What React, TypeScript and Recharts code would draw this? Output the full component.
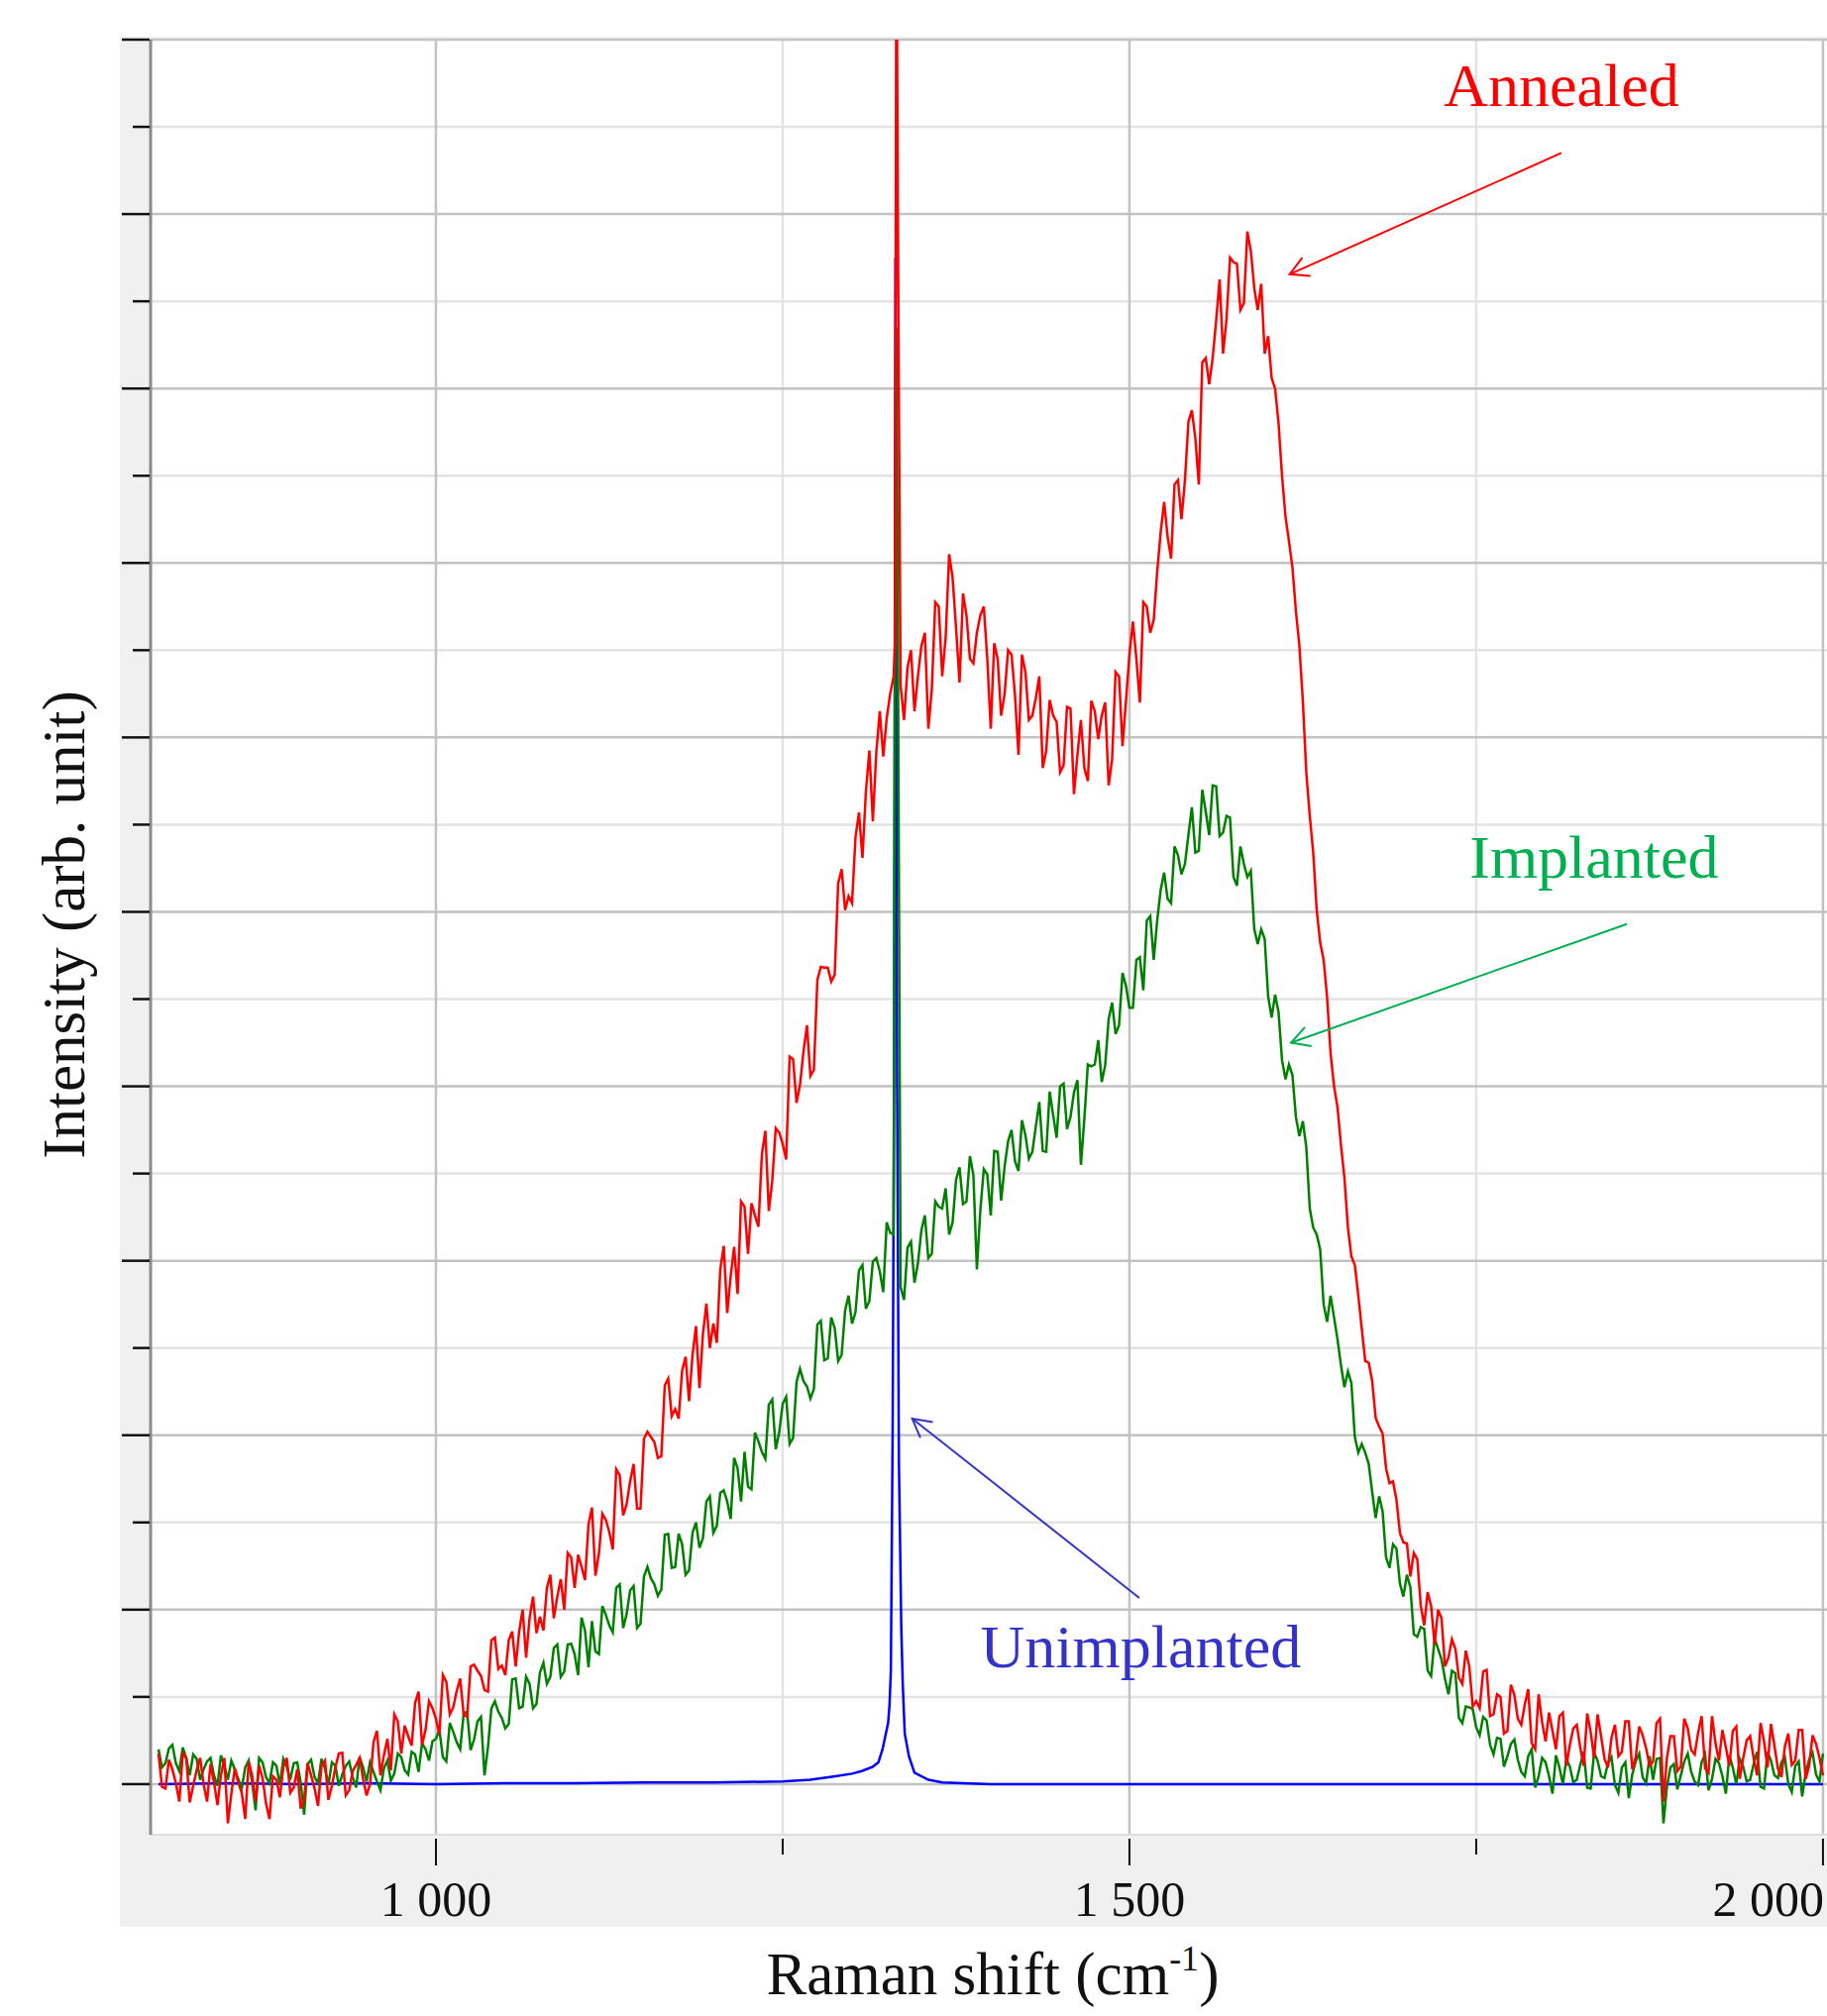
import {
  LineChart,
  Line,
  XAxis,
  YAxis,
  CartesianGrid,
  ReferenceLine,
  ReferenceDot,
} from "recharts";

// Raman shift grid (cm-1), shared by the annealed and implanted spectra
const shift = [
  800, 805, 810, 815, 820, 825, 830, 835, 840, 845, 850, 855, 860, 865, 870, 875, 880, 885, 890, 895,
  900, 905, 910, 915, 920, 925, 930, 935, 940, 945, 950, 955, 960, 965, 970, 975, 980, 985, 990, 995,
  1000, 1005, 1010, 1015, 1020, 1025, 1030, 1035, 1040, 1045, 1050, 1055, 1060, 1065, 1070, 1075, 1080, 1085, 1090, 1095,
  1100, 1105, 1110, 1115, 1120, 1125, 1130, 1135, 1140, 1145, 1150, 1155, 1160, 1165, 1170, 1175, 1180, 1185, 1190, 1195,
  1200, 1205, 1210, 1215, 1220, 1225, 1230, 1235, 1240, 1245, 1250, 1255, 1260, 1265, 1270, 1275, 1280, 1285, 1290, 1295,
  1300, 1305, 1310, 1315, 1320, 1325, 1330, 1331, 1332, 1333, 1335, 1340, 1345, 1350, 1355, 1360, 1365, 1370, 1375, 1380,
  1385, 1390, 1395, 1400, 1405, 1410, 1415, 1420, 1425, 1430, 1435, 1440, 1445, 1450, 1455, 1460, 1465, 1470, 1475, 1480,
  1485, 1490, 1495, 1500, 1505, 1510, 1515, 1520, 1525, 1530, 1535, 1540, 1545, 1550, 1555, 1560, 1565, 1570, 1575, 1580,
  1585, 1590, 1595, 1600, 1605, 1610, 1615, 1620, 1625, 1630, 1635, 1640, 1645, 1650, 1655, 1660, 1665, 1670, 1675, 1680,
  1685, 1690, 1695, 1700, 1705, 1710, 1715, 1720, 1725, 1730, 1735, 1740, 1745, 1750, 1755, 1760, 1765, 1770, 1775, 1780,
  1785, 1790, 1795, 1800, 1805, 1810, 1815, 1820, 1825, 1830, 1835, 1840, 1845, 1850, 1855, 1860, 1865, 1870, 1875, 1880,
  1885, 1890, 1895, 1900, 1905, 1910, 1915, 1920, 1925, 1930, 1935, 1940, 1945, 1950, 1955, 1960, 1965, 1970, 1975, 1980,
  1985, 1990, 1995, 2000,
];

const annealed = [
  0.35, -0.05, 0.17, -0.2, 0.3, -0.02, 0.3, -0.2, 0.02, 0.1, -0.45, 0.18, -0.1, 0.25, -0.2, 0.07, -0.4, 0.05, 0.2, -0.1,
  0.17, -0.17, 0.1, -0.25, 0.27, -0.02, 0.35, -0.13, 0.15, 0.3, -0.13, 0.48, 0.1, 0.52, 0.8, 0.35, 0.55, 0.93, 0.45, 0.95,
  0.75, 1.25, 0.8, 1.07, 0.8, 1.35, 1.3, 1.08, 1.65, 1.32, 1.25, 1.75, 1.75, 1.45, 2.15, 1.92, 2.25, 1.9, 2.35, 2.65,
  2.25, 2.49, 2.98, 2.39, 3.1, 2.89, 3.61, 3.08, 3.47, 3.16, 3.96, 3.98, 3.74, 4.57, 4.22, 4.19, 4.9, 4.92, 4.54, 5.51,
  5.28, 5.9, 5.4, 6.16, 6.68, 6.08, 6.52, 7.22, 6.57, 7.52, 7.34, 8.34, 7.81, 8.4, 8.12, 9.22, 9.36, 9.2, 10.33, 10.02,
  10.1, 11.14, 11.38, 11.04, 12.3, 12.22, 12.7, 13.1, 22, 18.0, 12.6, 12.8, 12.3, 13.05, 12.1, 13.55, 12.7, 14.1, 13.25, 13.65,
  12.9, 13.2, 13.5, 12.1, 12.9, 12.5, 12.95, 11.8, 12.75, 12.25, 12.7, 11.85, 12.25, 11.6, 12.35, 11.35, 12.2, 11.5, 12.3, 12.25,
  11.45, 12.75, 11.9, 12.95, 12.9, 13.55, 13.2, 13.9, 14.7, 14.05, 14.95, 14.95, 15.75, 14.9, 16.35, 16.35, 17.25, 16.8, 17.45, 16.9,
  17.8, 17.15, 17.2, 16.6, 16.0, 15.0, 14.25, 13.45, 12.42, 11.1, 10.02, 9.45, 8.38, 7.76, 6.95, 6.05, 5.6, 4.85, 4.62, 4.1,
  3.62, 3.47, 2.88, 2.76, 2.65, 2.05, 2.2, 1.6, 1.9, 1.45, 1.55, 1.15, 1.35, 0.95, 1.29, 0.78, 1.03, 0.58, 1.14, 0.75,
  0.91, 0.47, 1.03, 0.49, 0.61, 0.78, 0.21, 0.64, 0.42, 0.81, 0.3, 0.55, 0.19, 0.68, 0.37, 0.72, 0.31, 0.56, 0.21, 0.7,
  -0.2, 0.55, 0.15, 0.75, 0.39, 0.59, 0.18, 0.78, 0.27, 0.42, 0.61, 0.06, 0.5, 0.3, 0.7, 0.19, 0.44, 0.08, 0.58, 0.27,
  0.62, 0.21, 0.46, 0.1,
];

const implanted = [
  0.4, 0.24, 0.45, 0.15, 0.3, 0.34, 0.05, 0.26, 0.1, 0.33, 0.05, 0.17, -0.05, 0.27, -0.3, 0.25, 0.01, 0.21, 0.29, 0.05,
  0.25, -0.35, 0.28, 0.01, 0.18, 0.25, -0.02, 0.21, 0.08, 0.31, 0.03, 0.14, -0.07, 0.27, 0.12, 0.31, 0.11, 0.34, 0.47, 0.27,
  0.52, 0.31, 0.7, 0.48, 0.81, 0.39, 0.72, 0.1, 0.87, 0.83, 0.64, 1.2, 0.87, 1.23, 0.87, 1.28, 1.15, 1.56, 1.23, 1.6,
  1.49, 1.91, 1.34, 1.52, 2.04, 1.82, 2.25, 1.79, 2.22, 1.79, 2.38, 2.36, 2.16, 2.86, 2.48, 2.87, 2.4, 2.88, 2.71, 3.24,
  2.88, 3.34, 3.24, 3.74, 3.24, 3.41, 4.03, 3.81, 4.35, 3.84, 4.36, 3.9, 4.61, 4.62, 4.42, 5.27, 4.86, 5.35, 4.85, 5.43,
  5.28, 5.89, 5.45, 5.99, 5.88, 6.44, 6.3, 13.2, 16.7, 13.5, 5.7, 6.15, 5.75, 6.35, 6.03, 6.68, 6.6, 6.3, 6.93, 6.65,
  7.2, 5.9, 7.05, 6.52, 7.25, 7.08, 7.5, 7.03, 7.44, 7.25, 7.82, 7.25, 7.67, 8.0, 7.51, 7.93, 7.1, 8.25, 8.25, 8.05,
  8.77, 8.6, 9.3, 8.9, 9.45, 9.1, 9.95, 9.9, 10.45, 10.1, 10.65, 10.55, 11.2, 10.7, 11.15, 11.45, 10.87, 11.1, 10.4, 10.75,
  10.4, 9.8, 9.8, 9.03, 9.05, 8.3, 8.25, 7.65, 7.6, 6.6, 6.3, 5.5, 5.6, 5.1, 4.55, 4.6, 3.8, 3.8, 3.35, 3.3,
  2.6, 2.75, 2.3, 2.4, 1.72, 1.8, 1.3, 1.67, 1.43, 1.03, 1.27, 0.7, 0.88, 0.65, 0.77, 0.45, 0.53, 0.2, 0.46, 0.28,
  0.09, 0.4, 0.09, 0.25, -0.11, 0.19, 0.29, 0.02, 0.22, -0.04, 0.36, 0.09, 0.24, -0.01, 0.19, -0.16, 0.26, 0.08, 0.32, 0.29,
  -0.45, 0.19, -0.06, 0.26, 0.14, -0.01, 0.34, 0.06, 0.24, -0.11, 0.19, 0.29, 0.03, 0.23, -0.03, 0.37, 0.1, 0.25, 0.0, 0.21,
  -0.14, 0.28, 0.11, 0.35,
];

// in-between readings of the same two spectra (half-step points)
const shiftMid = [
  802.5, 807.5, 812.5, 817.5, 822.5, 827.5, 832.5, 837.5, 842.5, 847.5, 852.5, 857.5, 862.5, 867.5, 872.5, 877.5, 882.5, 887.5, 892.5, 897.5,
  902.5, 907.5, 912.5, 917.5, 922.5, 927.5, 932.5, 937.5, 942.5, 947.5, 952.5, 957.5, 962.5, 967.5, 972.5, 977.5, 982.5, 987.5, 992.5, 997.5,
  1002.5, 1007.5, 1012.5, 1017.5, 1022.5, 1027.5, 1032.5, 1037.5, 1042.5, 1047.5, 1052.5, 1057.5, 1062.5, 1067.5, 1072.5, 1077.5, 1082.5, 1087.5, 1092.5, 1097.5,
  1102.5, 1107.5, 1112.5, 1117.5, 1122.5, 1127.5, 1132.5, 1137.5, 1142.5, 1147.5, 1152.5, 1157.5, 1162.5, 1167.5, 1172.5, 1177.5, 1182.5, 1187.5, 1192.5, 1197.5,
  1202.5, 1207.5, 1212.5, 1217.5, 1222.5, 1227.5, 1232.5, 1237.5, 1242.5, 1247.5, 1252.5, 1257.5, 1262.5, 1267.5, 1272.5, 1277.5, 1282.5, 1287.5, 1292.5, 1297.5,
  1302.5, 1307.5, 1312.5, 1317.5, 1322.5, 1327.5, 1337.5, 1342.5, 1347.5, 1352.5, 1357.5, 1362.5, 1367.5, 1372.5, 1377.5, 1382.5, 1387.5, 1392.5, 1397.5, 1402.5,
  1407.5, 1412.5, 1417.5, 1422.5, 1427.5, 1432.5, 1437.5, 1442.5, 1447.5, 1452.5, 1457.5, 1462.5, 1467.5, 1472.5, 1477.5, 1482.5, 1487.5, 1492.5, 1497.5, 1502.5,
  1507.5, 1512.5, 1517.5, 1522.5, 1527.5, 1532.5, 1537.5, 1542.5, 1547.5, 1552.5, 1557.5, 1562.5, 1567.5, 1572.5, 1577.5, 1582.5, 1587.5, 1592.5, 1597.5, 1602.5,
  1607.5, 1612.5, 1617.5, 1622.5, 1627.5, 1632.5, 1637.5, 1642.5, 1647.5, 1652.5, 1657.5, 1662.5, 1667.5, 1672.5, 1677.5, 1682.5, 1687.5, 1692.5, 1697.5, 1702.5,
  1707.5, 1712.5, 1717.5, 1722.5, 1727.5, 1732.5, 1737.5, 1742.5, 1747.5, 1752.5, 1757.5, 1762.5, 1767.5, 1772.5, 1777.5, 1782.5, 1787.5, 1792.5, 1797.5, 1802.5,
  1807.5, 1812.5, 1817.5, 1822.5, 1827.5, 1832.5, 1837.5, 1842.5, 1847.5, 1852.5, 1857.5, 1862.5, 1867.5, 1872.5, 1877.5, 1882.5, 1887.5, 1892.5, 1897.5, 1902.5,
  1907.5, 1912.5, 1917.5, 1922.5, 1927.5, 1932.5, 1937.5, 1942.5, 1947.5, 1952.5, 1957.5, 1962.5, 1967.5, 1972.5, 1977.5, 1982.5, 1987.5, 1992.5, 1997.5,
];

const annealedMid = [
  -0.03, 0.28, 0.01, 0.35, -0.21, 0.16, 0.0, 0.23, -0.24, 0.3, -0.11, 0.02, -0.4, 0.1, 0.21, -0.22, 0.09, -0.15, 0.3, -0.04,
  -0.28, 0.24, -0.05, 0.21, -0.18, 0.19, 0.36, -0.07, 0.22, 0.06, 0.0, 0.61, 0.33, 0.16, 0.72, 0.67, 0.44, 1.06, 0.62, 0.87,
  0.57, 1.17, 0.88, 1.21, 0.77, 1.37, 1.24, 1.06, 1.68, 1.36, 1.65, 1.35, 2.0, 1.9, 1.73, 1.76, 2.4, 2.15, 2.0, 2.6,
  2.63, 2.34, 3.17, 2.64, 3.03, 2.69, 3.54, 3.21, 3.67, 3.16, 4.04, 3.92, 3.76, 4.65, 4.3, 4.74, 4.39, 5.25, 5.16, 5.0,
  5.06, 6.17, 5.82, 5.62, 6.62, 6.66, 6.39, 7.49, 6.92, 7.47, 7.16, 8.31, 8.02, 8.7, 8.19, 9.37, 9.36, 9.28, 10.49, 10.18,
  10.86, 10.62, 11.85, 11.83, 11.78, 12.5, 12.2, 13.0, 12.7, 13.2, 12.55, 13.5, 13.15, 13.83, 12.63, 13.4, 12.85, 13.4, 12.9, 13.08,
  12.25, 13.0, 12.48, 12.95, 12.2, 12.45, 11.65, 12.43, 12.18, 11.68, 12.33, 11.8, 11.65, 12.42, 11.98, 12.4, 11.75, 12.7, 12.42, 13.33,
  12.4, 13.5, 13.35, 14.35, 14.3, 14.9, 14.5, 15.62, 15.43, 16.3, 16.05, 16.78, 16.4, 17.5, 17.43, 16.98, 17.58, 16.9, 16.4, 16.12,
  15.6, 14.53, 13.95, 13.05, 11.6, 10.68, 9.65, 9.02, 8.0, 7.32, 6.38, 5.95, 5.22, 4.83, 4.2, 4.02, 3.45, 3.26, 2.77, 2.38,
  2.58, 1.82, 2.04, 2.0, 1.35, 1.66, 1.22, 1.53, 0.89, 0.87, 1.31, 0.8, 1.0, 0.61, 1.02, 0.68, 1.09, 0.4, 0.71, 0.82,
  0.4, 0.82, 0.45, 0.68, 0.21, 0.6, 0.8, 0.29, 0.53, 0.32, 0.72, 0.17, 0.66, 0.41, 0.26, 0.75, 0.3, 0.55, 0.2, 0.64,
  0.34, 0.78, 0.13, 0.47, 0.62, 0.21, 0.66, 0.3, 0.55, 0.1, 0.49, 0.69, 0.18, 0.43, 0.22, 0.62, 0.06, 0.56, 0.3,
];

const implantedMid = [
  0.19, 0.41, 0.24, 0.42, 0.1, 0.29, 0.17, 0.3, -0.02, 0.21, 0.27, 0.06, 0.19, 0.02, 0.3, 0.08, 0.25, -0.01, 0.2, 0.24,
  0.02, 0.23, 0.08, 0.29, -0.01, 0.21, 0.11, 0.26, -0.04, 0.19, 0.25, 0.03, 0.18, 0.04, 0.35, 0.16, 0.37, 0.14, 0.4, 0.49,
  0.62, 0.26, 0.6, 0.4, 0.83, 0.51, 0.77, 0.42, 0.95, 0.76, 0.69, 1.21, 0.89, 1.15, 0.92, 1.39, 1.23, 1.6, 1.29, 1.61,
  1.25, 1.76, 1.87, 1.49, 1.94, 1.74, 2.29, 1.95, 2.27, 1.84, 2.49, 2.29, 2.23, 2.87, 2.49, 2.75, 2.45, 3.0, 2.82, 3.3,
  2.96, 3.37, 3.04, 3.62, 3.81, 3.38, 3.93, 3.73, 4.41, 4.03, 4.44, 3.97, 4.76, 4.56, 4.53, 5.31, 4.88, 5.23, 4.92, 5.6,
  5.41, 5.95, 5.54, 6.03, 5.64, 6.32, 5.55, 6.22, 5.97, 6.52, 6.08, 6.62, 6.83, 6.44, 7.07, 6.68, 6.98, 6.58, 6.99, 7.26,
  6.69, 7.37, 7.14, 7.61, 7.17, 7.54, 7.26, 7.94, 7.41, 8.03, 7.65, 8.07, 7.63, 8.23, 8.53, 8.24, 8.96, 8.7, 9.15, 8.9,
  9.48, 9.9, 9.45, 10.25, 10.15, 10.75, 10.43, 10.88, 10.68, 11.4, 10.88, 11.44, 10.91, 11.08, 10.3, 10.55, 10.47, 9.63, 9.69, 8.79,
  8.85, 8.08, 8.13, 7.43, 7.3, 6.38, 6.13, 5.3, 5.35, 4.8, 4.73, 3.98, 3.9, 3.67, 3.05, 3.13, 2.48, 2.7, 2.15, 2.26,
  1.69, 1.78, 1.24, 1.55, 1.21, 1.3, 0.76, 0.89, 0.86, 0.56, 0.73, 0.34, 0.52, 0.32, 0.51, 0.14, 0.32, -0.04, 0.3, 0.09,
  0.33, 0.0, 0.2, 0.05, 0.37, -0.05, 0.27, 0.07, 0.31, -0.1, 0.25, 0.11, 0.35, 0.01, 0.05, 0.3, -0.03, 0.23, 0.1, 0.35,
  0.03, 0.25, -0.07, 0.29, 0.09, 0.33, 0.0, 0.2, 0.05, 0.37, -0.05, 0.27, 0.07, 0.31, -0.09, 0.26, 0.12, 0.36, 0.03,
];

// the unimplanted diamond only has its sharp 1332 line, so it is sampled on its own grid
const unimplantedShift = [
  800, 850, 900, 950, 1000, 1050, 1100, 1150, 1200, 1250, 1270, 1288, 1300, 1307, 1315, 1319, 1322, 1324, 1326, 1327,
  1328, 1329.3, 1330.3, 1331.3, 1332.5, 1333.8, 1335.5, 1336.5, 1338, 1341, 1345, 1355, 1365, 1380, 1400, 1500, 1600,
  1700, 1800, 1900, 2000,
];
const unimplanted = [
  0, 0.01, 0, 0.01, 0, 0.01, 0.01, 0.02, 0.02, 0.03, 0.05, 0.09, 0.12, 0.15, 0.2, 0.25, 0.4, 0.55, 0.7, 0.9,
  1.3, 4.1, 8.0, 17.5, 8.0, 3.7, 1.8, 1.18, 0.58, 0.32, 0.13, 0.05, 0.02, 0.01, 0, 0, 0,
  0, 0, 0, 0,
];

const xTicks = [1000, 1250, 1500, 1750, 2000];
const xTickLabels = ["1 000", "", "1 500", "", "2 000"];
const xMajor = [1000, 1500, 2000];
const xMinor = [1250, 1750];
const yTicks = [0, 1, 2, 3, 4, 5, 6, 7, 8, 9, 10, 11, 12, 13, 14, 15, 16, 17, 18, 19, 20];
const yMajor = [0, 2, 4, 6, 8, 10, 12, 14, 16, 18, 20];
const yMinor = [1, 3, 5, 7, 9, 11, 13, 15, 17, 19];

const annotations = [
  { text: "Annealed", color: "#ff0000", tx: 1811.4, ty: 19.24, from: [1811.4, 18.7], to: [1615.5, 17.31] },
  { text: "Implanted", color: "#00b050", tx: 1835, ty: 10.39, from: [1858.6, 9.86], to: [1616.5, 8.5] },
  { text: "Unimplanted", color: "#3333cc", tx: 1508.2, ty: 1.34, from: [1507.1, 2.135], to: [1343.4, 4.19] },
];

const serif = '"Liberation Serif", "Times New Roman", serif';

const merge = (xs: number[], ys: number[], xm: number[], ym: number[]) =>
  xs
    .map((s, i) => ({ shift: s, v: ys[i] }))
    .concat(xm.map((s, i) => ({ shift: s, v: ym[i] })))
    .sort((a, b) => a.shift - b.shift);

const annealedData = merge(shift, annealed, shiftMid, annealedMid);
const implantedData = merge(shift, implanted, shiftMid, implantedMid);
const unimplantedData = unimplantedShift.map((s, i) => ({ shift: s, v: unimplanted[i] }));

const YTick = ({ x, y, payload }: any) => {
  const major = yMajor.includes(payload.value);
  return <line x1={x - (major ? 29 : 18)} x2={x - 1} y1={y} y2={y} stroke="#111" strokeWidth={2.5} />;
};

const XTick = ({ x, y, payload }: any) => {
  const major = xMajor.includes(payload.value);
  const idx = xTicks.indexOf(payload.value);
  const last = idx === xTicks.length - 1;
  return (
    <g>
      <line x1={x} x2={x} y1={y + 4} y2={y + (major ? 31 : 20)} stroke="#111" strokeWidth={2} />
      {major && (
        <text
          x={last ? x + 1 : x}
          y={y + 82}
          textAnchor={last ? "end" : "middle"}
          fontFamily={serif}
          fontSize={50}
          fill="#111"
        >
          {xTickLabels[idx]}
        </text>
      )}
    </g>
  );
};

const arrow = (color: string) => (p: any) => {
  const { x1, y1, x2, y2 } = p;
  const a = Math.atan2(y1 - y2, x1 - x2);
  const len = 21;
  const s = 0.5;
  const pts = `${x2 + len * Math.cos(a - s)},${y2 + len * Math.sin(a - s)} ${x2},${y2} ${
    x2 + len * Math.cos(a + s)
  },${y2 + len * Math.sin(a + s)}`;
  return (
    <g>
      <line x1={x1} y1={y1} x2={x2} y2={y2} stroke={color} strokeWidth={2} />
      <polyline points={pts} fill="none" stroke={color} strokeWidth={2} />
    </g>
  );
};

export default function App() {
  return (
    <div style={{ position: "absolute", left: 0, top: 0, width: 1844, height: 2035, background: "#fff" }}>
      <div
        style={{ position: "absolute", left: 121, top: 37, width: 1723, height: 1908, background: "#f0f0f0" }}
      />
      <div style={{ position: "absolute", left: 0, top: 0 }}>
        <LineChart width={1844} height={2035} margin={{ top: 40, right: 0, left: 122, bottom: 90 }}>
          <CartesianGrid
            fill="#ffffff"
            fillOpacity={1}
            stroke="#e3e3e3"
            strokeWidth={2.5}
            horizontalValues={yMinor}
            verticalValues={xMinor}
          />
          <CartesianGrid stroke="#c2c2c2" strokeWidth={2.5} horizontalValues={yMajor} verticalValues={xMajor} />
          <XAxis
            dataKey="shift"
            type="number"
            domain={[794.3, 2002.9]}
            allowDataOverflow
            ticks={xTicks}
            interval={0}
            height={93}
            tickSize={0}
            tickMargin={0}
            tickLine={false}
            axisLine={{ stroke: "#dedede", strokeWidth: 2 }}
            tick={<XTick />}
          />
          <YAxis
            type="number"
            domain={[-0.58, 20]}
            allowDataOverflow
            ticks={yTicks}
            interval={0}
            width={30}
            tickSize={0}
            tickMargin={0}
            tickLine={false}
            axisLine={{ stroke: "#8a8a8a", strokeWidth: 3 }}
            tick={<YTick />}
          />
          <Line
            data={unimplantedData}
            dataKey="v"
            type="linear"
            stroke="#0000ff"
            strokeWidth={2.5}
            dot={false}
            activeDot={false}
            isAnimationActive={false}
          />
          <Line
            data={implantedData}
            dataKey="v"
            type="linear"
            stroke="#008000"
            strokeWidth={2.5}
            dot={false}
            activeDot={false}
            isAnimationActive={false}
          />
          <Line
            data={annealedData}
            dataKey="v"
            type="linear"
            stroke="#ff0000"
            strokeWidth={2.5}
            dot={false}
            activeDot={false}
            isAnimationActive={false}
          />
          {annotations.map((n) => (
            <ReferenceLine
              key={n.text + "-arrow"}
              segment={[
                { x: n.from[0], y: n.from[1] },
                { x: n.to[0], y: n.to[1] },
              ]}
              shape={arrow(n.color)}
            />
          ))}
          {annotations.map((n) => (
            <ReferenceDot
              key={n.text}
              x={n.tx}
              y={n.ty}
              r={0}
              shape={(p: any) => (
                <text x={p.cx} y={p.cy} textAnchor="middle" fontFamily={serif} fontSize={62} fill={n.color}>
                  {n.text}
                </text>
              )}
            />
          ))}
        </LineChart>
      </div>
      <div
        style={{
          position: "absolute",
          left: 702,
          top: 1962,
          width: 600,
          height: 61,
          textAlign: "center",
          fontFamily: serif,
          fontSize: 61,
          lineHeight: "61px",
          color: "#111",
          whiteSpace: "nowrap",
        }}
      >
        Raman shift (cm<span style={{ fontSize: 36, position: "relative", top: -24 }}>-1</span>)
      </div>
      <div
        style={{
          position: "absolute",
          left: 63.5 - 350,
          top: 933 - 30.5,
          width: 700,
          height: 61,
          textAlign: "center",
          fontFamily: serif,
          fontSize: 61,
          lineHeight: "61px",
          color: "#111",
          whiteSpace: "nowrap",
          transform: "rotate(-90deg)",
        }}
      >
        Intensity (arb. unit)
      </div>
    </div>
  );
}
